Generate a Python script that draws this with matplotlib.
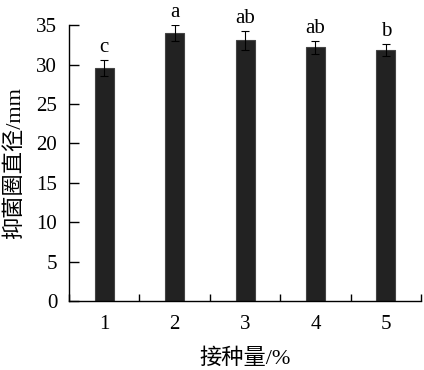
import matplotlib.pyplot as plt
import numpy as np

# Data
doses = ["1", "2", "3", "4", "5"]
zone_mm = [29.6, 34.0, 33.1, 32.2, 31.9]
zone_err = [1.0, 1.0, 1.2, 0.8, 0.75]
sig_letters = ["c", "a", "ab", "ab", "b"]

plt.rcParams['font.family'] = ['Liberation Serif', 'Noto Sans CJK SC']
plt.rcParams['font.size'] = 15

fig = plt.figure(figsize=(4.24, 3.70), dpi=100)
ax = fig.add_axes([0.163, 0.186, 0.830, 0.746])

x = np.arange(1, len(doses) + 1)
ax.bar(x, zone_mm, width=0.27, color="#222222", edgecolor="#444444", linewidth=0.8,
       yerr=zone_err, capsize=3, error_kw=dict(ecolor="black", elinewidth=0.8, capthick=0.8))

# significance letters above the error bars
for xi, v, e, s in zip(x, zone_mm, zone_err, sig_letters):
    ax.text(xi, v + e + 0.4, s, ha="center", va="bottom", fontsize=15)

ax.set_xlim(0.5, 5.5)
ax.set_ylim(0, 35)
ax.set_yticks(np.arange(0, 36, 5))
ax.set_xticks(x)
ax.set_xticklabels(doses)
ax.set_xticks(np.arange(0.5, 5.6, 1), minor=True)
ax.tick_params(axis="x", which="major", length=0, pad=10)
ax.tick_params(axis="x", which="minor", direction="in", length=5, width=1)
ax.tick_params(axis="y", direction="in", length=7, width=1, pad=8.5)

for side in ["top", "right"]:
    ax.spines[side].set_visible(False)
for side in ["left", "bottom"]:
    ax.spines[side].set_linewidth(1)

ax.set_xlabel("接种量/%", fontsize=16, labelpad=10)
ax.set_ylabel("抑菌圈直径/mm", fontsize=16, labelpad=8)

fig.savefig("out.png", dpi=100)
